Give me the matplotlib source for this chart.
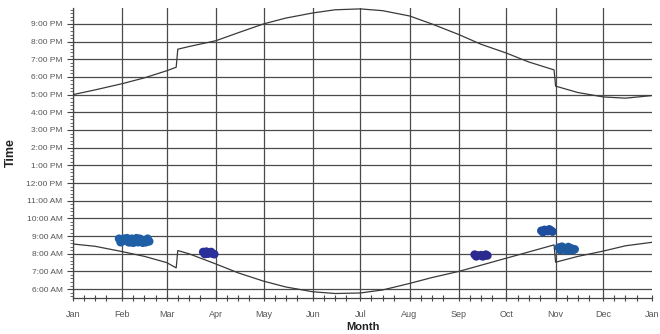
import numpy as np
import pandas as pd
import matplotlib
matplotlib.use("Agg")
import matplotlib.pyplot as plt
import matplotlib.dates as mdates
from matplotlib.ticker import FixedLocator, MultipleLocator, FuncFormatter

# sunset / sunrise (hours of day), two points on DST change days
sunset_dates = ['2009-01-01', '2009-01-15', '2009-02-01', '2009-02-15', '2009-03-01',
                '2009-03-07', '2009-03-08', '2009-03-15', '2009-04-01', '2009-04-15',
                '2009-05-01', '2009-05-15', '2009-06-01', '2009-06-15', '2009-07-01',
                '2009-07-15', '2009-08-01', '2009-08-15', '2009-09-01', '2009-09-15',
                '2009-10-01', '2009-10-15', '2009-10-31', '2009-11-01', '2009-11-15',
                '2009-12-01', '2009-12-15', '2010-01-01']
sunset_hours = [17.00, 17.27, 17.62, 17.95, 18.35, 18.55, 19.57, 19.72, 20.05, 20.5,
                21.0, 21.33, 21.62, 21.8, 21.85, 21.75, 21.45, 21.0, 20.4, 19.85,
                19.35, 18.85, 18.4, 17.48, 17.12, 16.87, 16.8, 16.95]

sunrise_dates = ['2009-01-01', '2009-01-15', '2009-02-01', '2009-02-15', '2009-03-01',
                 '2009-03-07', '2009-03-08', '2009-03-15', '2009-04-01', '2009-04-15',
                 '2009-05-01', '2009-05-15', '2009-06-01', '2009-06-15', '2009-07-01',
                 '2009-07-15', '2009-08-01', '2009-08-15', '2009-09-01', '2009-09-15',
                 '2009-10-01', '2009-10-15', '2009-10-31', '2009-11-01', '2009-11-15',
                 '2009-12-01', '2009-12-15', '2010-01-01']
sunrise_hours = [8.55, 8.42, 8.12, 7.85, 7.5, 7.2, 8.18, 8.0, 7.42, 6.92,
                 6.45, 6.12, 5.85, 5.75, 5.78, 5.95, 6.32, 6.65, 7.0, 7.35,
                 7.75, 8.1, 8.5, 7.52, 7.85, 8.15, 8.45, 8.65]

# observation clusters
feb_dates = ['2009-01-30', '2009-02-01', '2009-02-03', '2009-02-05', '2009-02-07',
             '2009-02-09', '2009-02-11', '2009-02-13', '2009-02-15', '2009-02-17',
             '2009-02-18', '2009-01-31', '2009-02-02', '2009-02-04', '2009-02-06',
             '2009-02-08', '2009-02-10', '2009-02-12', '2009-02-14', '2009-02-16']
feb_times = [8.85, 8.7, 8.8, 8.65, 8.85, 8.75, 8.65, 8.8, 8.7, 8.85,
             8.7, 8.65, 8.85, 8.88, 8.65, 8.62, 8.88, 8.85, 8.62, 8.65]

apr_dates = ['2009-03-24', '2009-03-26', '2009-03-28', '2009-03-30', '2009-03-25',
             '2009-03-27', '2009-03-29', '2009-03-31']
apr_times = [8.1, 8.12, 8.05, 8.0, 7.98, 8.0, 8.1, 7.97]

sep_dates = ['2009-09-11', '2009-09-13', '2009-09-15', '2009-09-17', '2009-09-19',
             '2009-09-12', '2009-09-16', '2009-09-18']
sep_times = [7.95, 7.9, 7.92, 7.88, 7.9, 7.85, 7.85, 7.95]

oct_dates = ['2009-10-23', '2009-10-25', '2009-10-27', '2009-10-29', '2009-10-30',
             '2009-10-24', '2009-10-28']
oct_times = [9.3, 9.35, 9.28, 9.32, 9.25, 9.22, 9.38]

nov_dates = ['2009-11-03', '2009-11-05', '2009-11-07', '2009-11-09', '2009-11-11',
             '2009-11-13', '2009-11-04', '2009-11-08', '2009-11-12', '2009-11-06',
             '2009-11-10']
nov_times = [8.35, 8.4, 8.3, 8.38, 8.3, 8.25, 8.2, 8.18, 8.22, 8.25, 8.2]

clusters = [
    (feb_dates, feb_times, '#1f5fa5'),
    (apr_dates, apr_times, '#2a2f9a'),
    (sep_dates, sep_times, '#2b2a8f'),
    (oct_dates, oct_times, '#1f4e9e'),
    (nov_dates, nov_times, '#1f5a9e'),
]

hour_ticks = list(range(6, 22))


def hour_label(h, pos):
    hr = int(round(h))
    suffix = 'AM' if hr < 12 else 'PM'
    hr12 = hr % 12
    if hr12 == 0:
        hr12 = 12
    return '%d:00 %s' % (hr12, suffix)


plt.rcParams['font.family'] = ['Liberation Sans', 'DejaVu Sans']

fig = plt.figure(figsize=(6.6, 3.34), dpi=100)
ax = fig.add_axes([0.1106, 0.108, 0.878, 0.868])

ax.plot(pd.to_datetime(sunset_dates), sunset_hours, color='#3a3a3a', lw=0.9, zorder=3)
ax.plot(pd.to_datetime(sunrise_dates), sunrise_hours, color='#3a3a3a', lw=0.9, zorder=3)

for d, t, c in clusters:
    ax.scatter(pd.to_datetime(d), t, s=38, color=c, edgecolors='none', zorder=4)

ax.set_xlim(pd.Timestamp('2009-01-01'), pd.Timestamp('2010-01-01'))
ax.set_ylim(5.5, 21.9)

ax.xaxis.set_major_locator(mdates.MonthLocator())
ax.xaxis.set_major_formatter(mdates.DateFormatter('%b'))
ax.xaxis.set_minor_locator(mdates.DayLocator(bymonthday=[8, 15, 22]))
ax.yaxis.set_major_locator(FixedLocator(hour_ticks))
ax.yaxis.set_major_formatter(FuncFormatter(hour_label))
ax.yaxis.set_minor_locator(MultipleLocator(0.2))

for s in ['top', 'right']:
    ax.spines[s].set_visible(False)
for s in ['left', 'bottom']:
    ax.spines[s].set_color('#444444')
    ax.spines[s].set_linewidth(0.9)

ax.tick_params(axis='both', which='major', labelsize=6, colors='#444444',
               labelcolor='#555555', length=4, width=0.8)
ax.tick_params(axis='x', which='major', labelsize=6.5)
ax.tick_params(axis='x', which='both', direction='inout', pad=7)
ax.tick_params(axis='x', which='minor', length=5, width=0.8, color='#444444')
ax.tick_params(axis='y', which='minor', length=2.5, width=0.6, color='#555555')

ax.grid(True, which='major', color='#4a4a4a', lw=0.9)
ax.xaxis.get_gridlines()[-1].set_visible(False)

ax.set_ylabel('Time', fontsize=9, fontweight='bold', color='#222222', labelpad=7)
ax.set_xlabel('Month', fontsize=8, fontweight='bold', color='#222222', labelpad=2)

fig.savefig('out.png', dpi=100)
